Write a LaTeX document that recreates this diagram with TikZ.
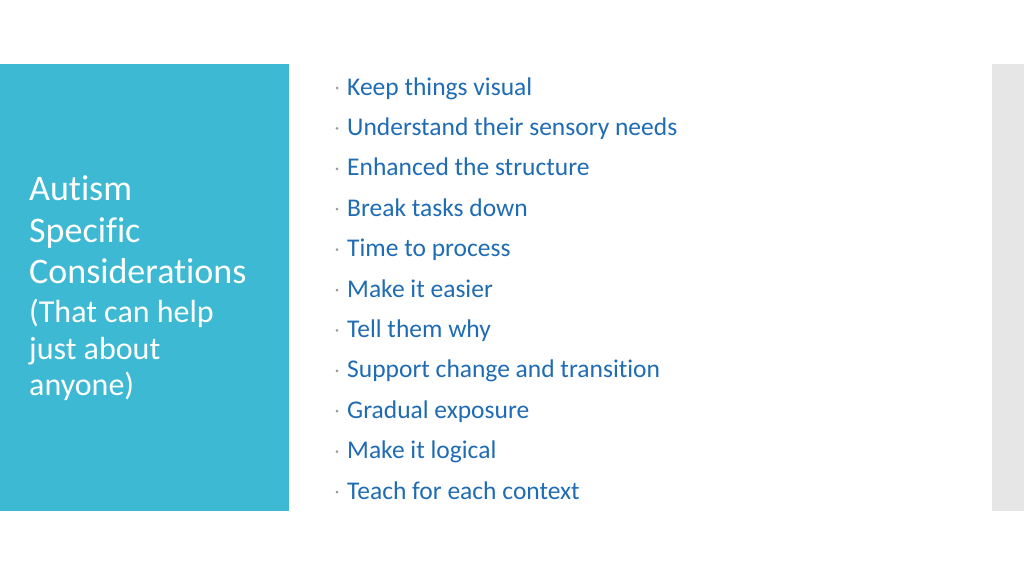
\documentclass[tikz,border=0pt]{standalone}
\usepackage{fontspec}
\setmainfont[Ligatures=NoCommon]{Carlito}
\definecolor{tealb}{HTML}{3DB9D3}
\definecolor{txtb}{HTML}{1F6CB4}
\definecolor{greyb}{HTML}{E6E6E6}
\begin{document}
\begin{tikzpicture}[x=1pt,y=-1pt,
  item/.style={anchor=base west,text=txtb,font=\fontsize{25.5}{30}\selectfont,inner sep=0pt},
  ttl/.style={anchor=base west,text=white,inner sep=0pt,font=\fontsize{36}{41}\selectfont},
  sub/.style={anchor=base west,text=white,inner sep=0pt,font=\fontsize{32}{37}\selectfont},
  dot/.style={circle,fill=gray!80,inner sep=0pt,minimum size=3pt}]
\useasboundingbox (0,0) rectangle (1024,576);
\fill[white] (0,0) rectangle (1024,576);
\fill[tealb] (0,64) rectangle (289,511);
\fill[greyb] (992,64) rectangle (1024,511);
\node[ttl] (t1) at (29,200) {Autism};
\node[ttl] (t2) at (29,242) {Specific};
\node[ttl] (t3) at (29,283) {Considerations};
\node[sub] (t4) at (29,322) {(That can help};
\node[sub] (t5) at (29,359) {just about};
\node[sub] (t6) at (29,395) {anyone)};
\foreach \t [count=\i from 0] in {Keep things visual,Understand their sensory needs,Enhanced the structure,Break tasks down,Time to process,Make it easier,Tell them why,Support change and transition,Gradual exposure,Make it logical,Teach for each context}{
  \node[item] (b\i) at (347,95+40.4*\i) {\t};
  \node[dot] (d\i) at (337,88+40.4*\i) {};
}
\end{tikzpicture}
\end{document}
